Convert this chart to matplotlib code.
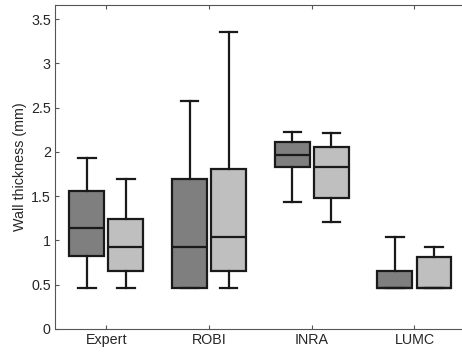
import matplotlib.pyplot as plt

plt.rcParams['font.family'] = ['Liberation Sans', 'DejaVu Sans']

groups = ['Expert', 'ROBI', 'INRA', 'LUMC']
# per group: (whislo, q1, med, q3, whishi)
dark = [
    (0.46, 0.82, 1.14, 1.56, 1.93),
    (0.46, 0.46, 0.93, 1.69, 2.57),
    (1.44, 1.83, 1.96, 2.11, 2.23),
    (0.46, 0.46, 0.46, 0.655, 1.04),
]
light = [
    (0.46, 0.655, 0.93, 1.245, 1.69),
    (0.46, 0.655, 1.04, 1.81, 3.36),
    (1.21, 1.48, 1.83, 2.06, 2.21),
    (0.46, 0.46, 0.46, 0.81, 0.93),
]
dark_color = '#7f7f7f'
light_color = '#bfbfbf'
edge = '#1a1a1a'


def to_stats(rows):
    return [dict(whislo=r[0], q1=r[1], med=r[2], q3=r[3], whishi=r[4], fliers=[]) for r in rows]


fig = plt.figure(figsize=(4.62, 3.56), dpi=100)
ax = fig.add_axes([55 / 462, 1 - 329 / 356, 410.8 / 462, 324 / 356])

pos = list(range(1, len(groups) + 1))
lw = 1.6
for stats, off, col in [(dark, -0.19, dark_color), (light, 0.19, light_color)]:
    ax.bxp(to_stats(stats), positions=[p + off for p in pos], widths=0.34,
           patch_artist=True, showfliers=False,
           boxprops=dict(facecolor=col, edgecolor=edge, linewidth=lw),
           medianprops=dict(color=edge, linewidth=lw),
           whiskerprops=dict(color=edge, linewidth=lw),
           capprops=dict(color=edge, linewidth=lw),
           capwidths=0.17, manage_ticks=False)

ax.set_xlim(0.5, 4.5)
ax.set_ylim(0, 3.66)
ax.set_xticks(pos)
ax.set_xticklabels(groups)
ax.set_yticks([0, 0.5, 1, 1.5, 2, 2.5, 3, 3.5])
ax.set_yticklabels(['0', '0.5', '1', '1.5', '2', '2.5', '3', '3.5'])
ax.set_ylabel('Wall thickness (mm)', fontsize=10.3, color='#262626', labelpad=3)
ax.tick_params(direction='in', length=3, width=0.8, color='#555555',
               labelsize=10.3, labelcolor='#262626', top=True, right=True, pad=3)
for s in ax.spines.values():
    s.set_color('#555555')
    s.set_linewidth(0.8)

fig.savefig('out.png', dpi=100)
